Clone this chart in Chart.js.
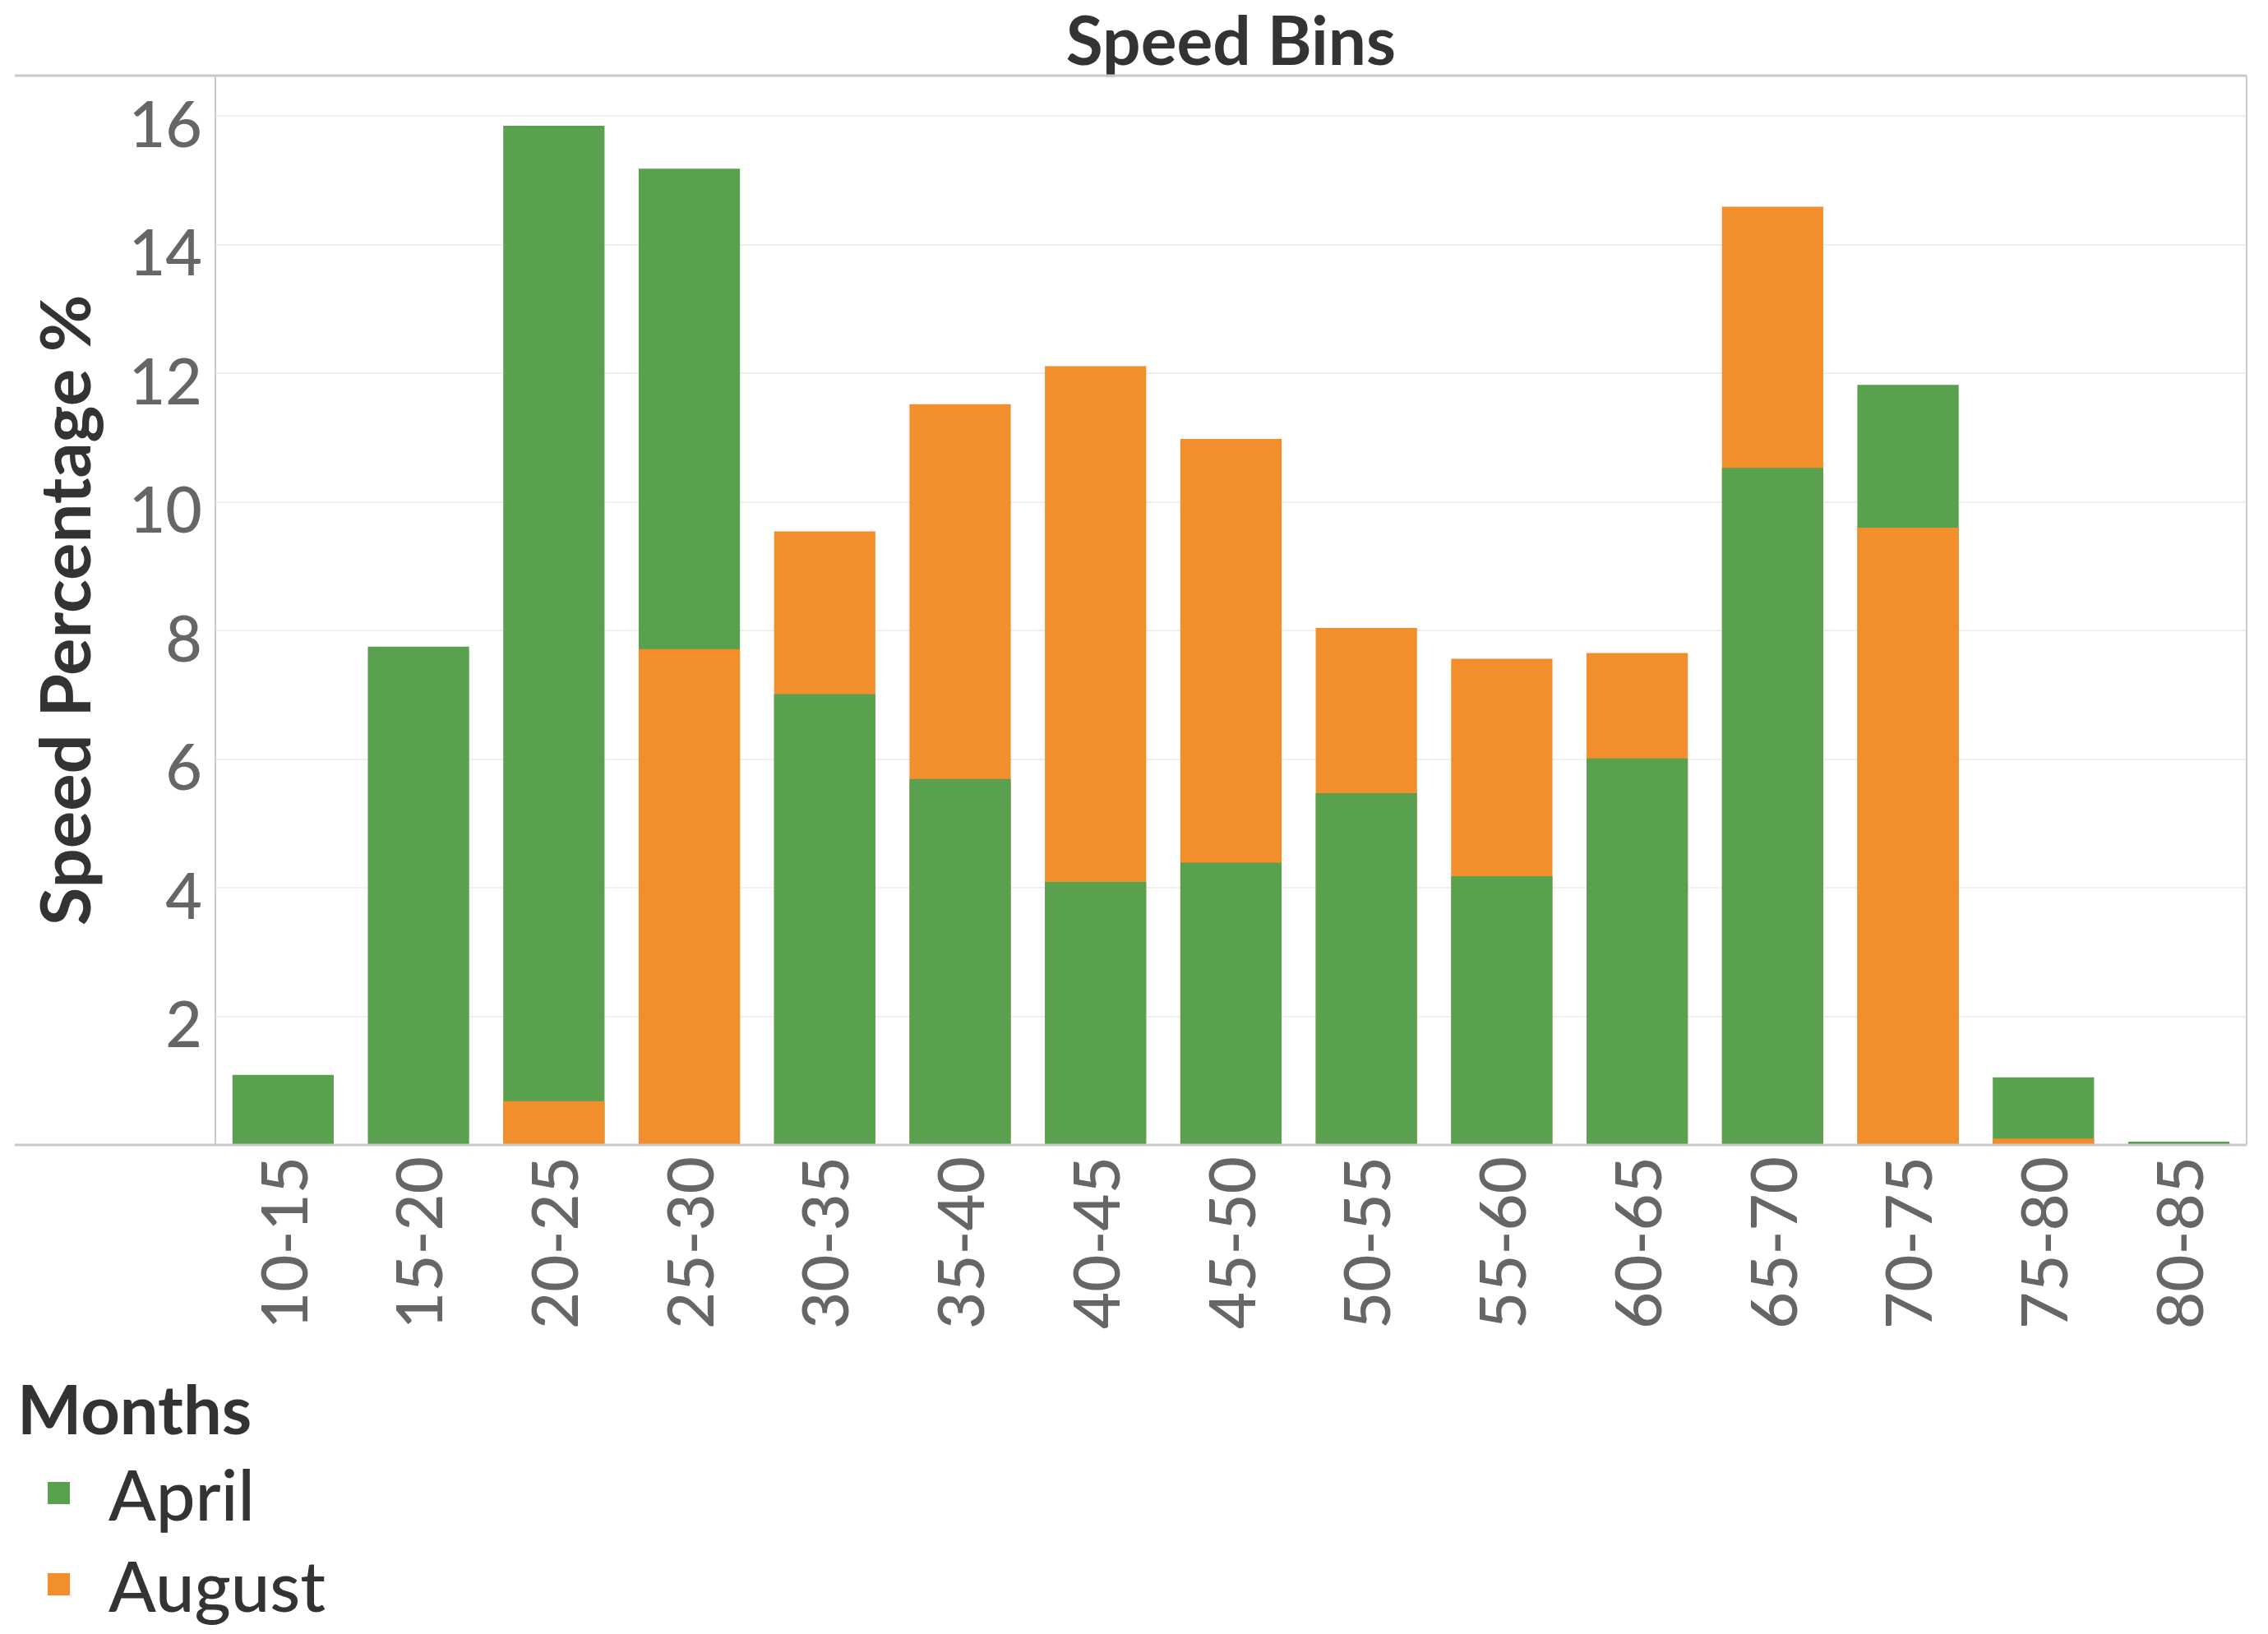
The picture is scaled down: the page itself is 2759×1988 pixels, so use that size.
<!DOCTYPE html>
<html>
<head>
<meta charset="utf-8">
<script src="https://cdn.jsdelivr.net/npm/chart.js@4.4.1/dist/chart.umd.min.js"></script>
<style>
  html, body { margin: 0; padding: 0; background: #ffffff; }
  #wrap { position: relative; width: 2759px; height: 1988px; overflow: hidden; }
  #c { position: absolute; left: 0; top: 0; }
  #legend { position: absolute; left: 0; top: 0; font-family: "Lato", sans-serif; color: #333333; }
  .lg-title { position: absolute; left: 21px; top: 1663px; font-size: 83px; font-weight: 700; line-height: 100px; white-space: nowrap; }
  .lg-item { position: absolute; left: 58px; height: 100px; line-height: 100px; font-size: 85px; font-weight: 500; white-space: nowrap; }
  .lg-sw { position: absolute; left: 0; top: 36px; width: 27px; height: 27px; }
  .lg-txt { position: absolute; left: 74px; top: 0; }
</style>
</head>
<body>
<div id="wrap">
  <canvas id="c" width="2759" height="1988"></canvas>
  <div id="legend"></div>
</div>
<script>
const categories = ["10-15","15-20","20-25","25-30","30-35","35-40","40-45","45-50","50-55","55-60","60-65","65-70","70-75","75-80","80-85"];
const april  = [1.09, 7.75, 15.85, 15.18, 7.01, 5.69, 4.09, 4.39, 5.47, 4.18, 6.01, 10.53, 11.82, 1.05, 0.05];
const august = [0, 0, 0.68, 7.71, 9.54, 11.52, 12.11, 10.98, 8.04, 7.56, 7.65, 14.59, 9.60, 0.10, 0];
const yTicks = [2, 4, 6, 8, 10, 12, 14, 16];
const seriesNames = ["April", "August"];
const GREEN = "#59a14f";
const ORANGE = "#f28e2b";

// Overlapping (not stacked) bars: the larger value sits behind, the smaller in front.
const aprilBack   = april.map((v, i) => v >= august[i] ? v : null);
const augustBack  = august.map((v, i) => v > april[i] ? v : null);
const aprilFront  = april.map((v, i) => v < august[i] ? v : null);
const augustFront = august.map((v, i) => v <= april[i] && v > 0 ? v : null);

const frame = {
  id: 'frame',
  afterDraw(chart) {
    const ctx = chart.ctx, a = chart.chartArea;
    ctx.save();
    ctx.strokeStyle = '#c9c9c9';
    ctx.lineWidth = 3;
    ctx.beginPath();
    ctx.moveTo(18, a.top); ctx.lineTo(a.right, a.top);
    ctx.moveTo(18, a.bottom); ctx.lineTo(a.right, a.bottom);
    ctx.stroke();
    ctx.lineWidth = 2;
    ctx.beginPath();
    ctx.moveTo(a.left, a.top); ctx.lineTo(a.left, a.bottom);
    ctx.moveTo(a.right, a.top); ctx.lineTo(a.right, a.bottom);
    ctx.stroke();
    ctx.restore();
  }
};

const common = { grouped: false, barPercentage: 0.748, categoryPercentage: 1.0, borderWidth: 0 };

new Chart(document.getElementById('c'), {
  type: 'bar',
  data: {
    labels: categories,
    datasets: [
      Object.assign({ label: seriesNames[0], data: aprilFront,  backgroundColor: GREEN,  order: 0 }, common),
      Object.assign({ label: seriesNames[1], data: augustFront, backgroundColor: ORANGE, order: 0 }, common),
      Object.assign({ label: seriesNames[0], data: aprilBack,   backgroundColor: GREEN,  order: 1 }, common),
      Object.assign({ label: seriesNames[1], data: augustBack,  backgroundColor: ORANGE, order: 1 }, common)
    ]
  },
  options: {
    responsive: false,
    animation: false,
    devicePixelRatio: 1,
    layout: { padding: { left: 0, right: 24, top: 0, bottom: 0 } },
    plugins: {
      legend: { display: false },
      tooltip: { enabled: false },
      title: {
        display: true,
        text: 'Speed Bins',
        fullSize: false,
        color: '#333333',
        font: { family: 'Lato', size: 82, weight: 'bold', lineHeight: 0.95 },
        padding: { top: 14, bottom: 0 }
      }
    },
    scales: {
      x: {
        type: 'category',
        offset: true,
        grid: { display: false, drawTicks: false },
        border: { display: false },
        afterFit(scale) { scale.height = 595; },
        ticks: {
          color: '#666666',
          font: { family: 'Lato', size: 78, weight: 500 },
          minRotation: 90, maxRotation: 90,
          padding: 14,
          labelOffset: 4,
          autoSkip: false
        }
      },
      y: {
        min: 0,
        max: 16.63,
        grid: { color: '#efefef', lineWidth: 2, drawTicks: false },
        border: { display: false },
        afterFit(scale) { scale.width = 262; },
        afterBuildTicks(scale) { scale.ticks = [0].concat(yTicks).map(v => ({ value: v })); },
        ticks: {
          includeBounds: false,
          color: '#666666',
          font: { family: 'Lato', size: 77, weight: 500 },
          padding: 16,
          labelOffset: 13,
          callback: (v) => v === 0 ? '' : String(v)
        },
        title: {
          display: true,
          text: 'Speed Percentage %',
          color: '#333333',
          font: { family: 'Lato', size: 85, weight: 'bold', lineHeight: 1.2 },
          padding: { top: 32, bottom: 10 }
        }
      }
    }
  },
  plugins: [frame]
});

// HTML legend
const legend = document.getElementById('legend');
const t = document.createElement('div');
t.className = 'lg-title';
t.textContent = 'Months';
legend.appendChild(t);
const legendColors = [GREEN, ORANGE];
const legendTops = [1767, 1878];
seriesNames.forEach((name, i) => {
  const it = document.createElement('div');
  it.className = 'lg-item';
  it.style.top = legendTops[i] + 'px';
  const sw = document.createElement('div');
  sw.className = 'lg-sw';
  sw.style.background = legendColors[i];
  const tx = document.createElement('div');
  tx.className = 'lg-txt';
  tx.textContent = name;
  it.appendChild(sw); it.appendChild(tx);
  legend.appendChild(it);
});
</script>
</body>
</html>
